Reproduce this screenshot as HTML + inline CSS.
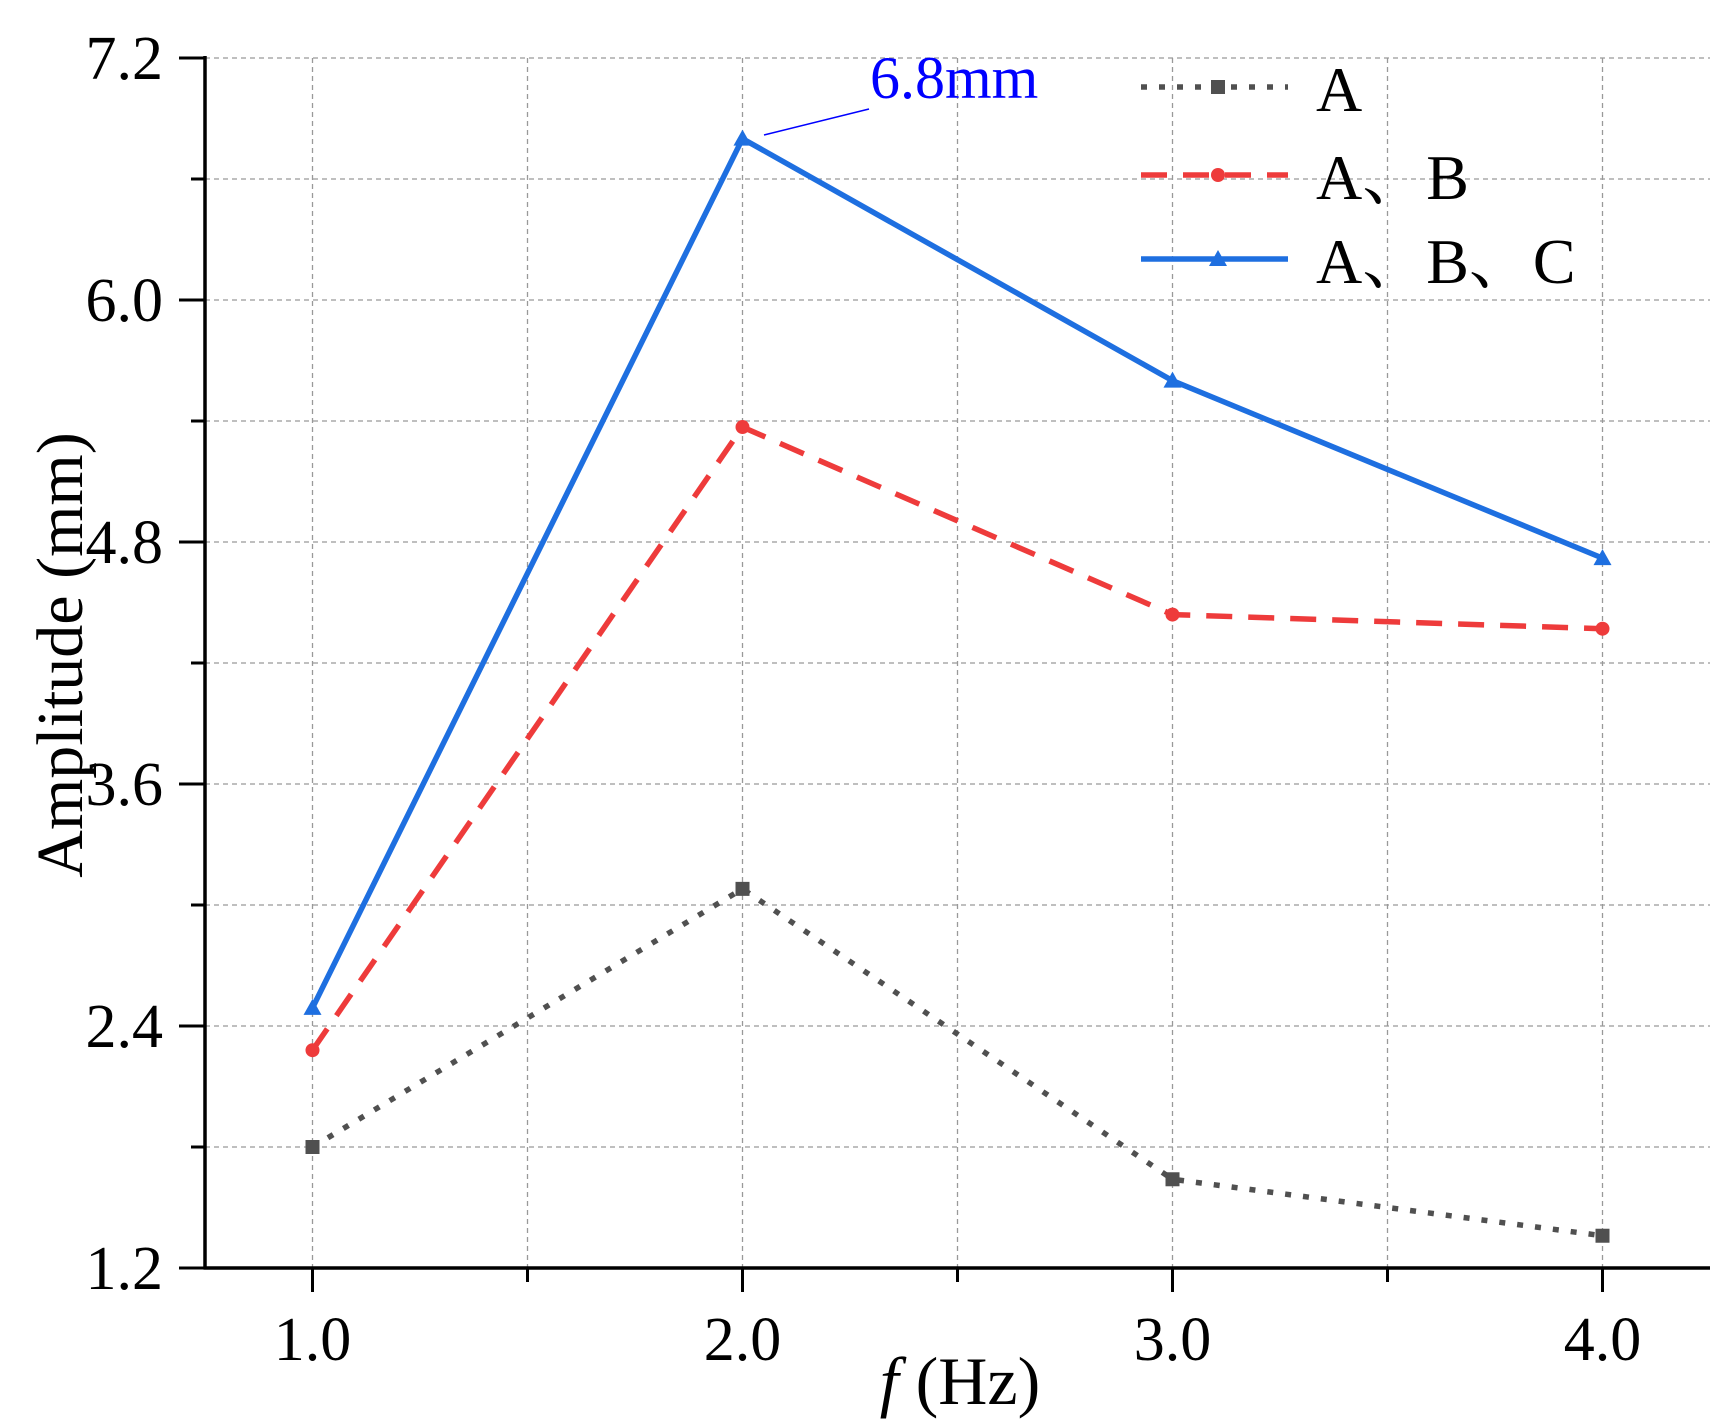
<!DOCTYPE html>
<html><head><meta charset="utf-8">
<style>
html,body{margin:0;padding:0;background:#fff;}
svg{display:block;font-family:"Liberation Serif",serif;}
.cjk{font-family:"Liberation Serif","Noto Serif CJK SC",serif;}
</style></head>
<body>
<svg id="chart" width="1732" height="1428" viewBox="0 0 1732 1428" xmlns="http://www.w3.org/2000/svg">
<g id="grid"></g>
<g id="axes"></g>
<g id="series"></g>
<g id="legend"></g>
<line x1="764" y1="135" x2="869" y2="109" stroke="#0000ff" stroke-width="1.5"/>
<text x="870" y="98" font-size="60" fill="#0000ff">6.8mm</text>
<text x="960" y="1404" font-size="68" text-anchor="middle"><tspan font-style="italic">f</tspan> (Hz)</text>
<text transform="translate(82,655) rotate(-90)" font-size="66" text-anchor="middle">Amplitude (mm)</text>
</svg>
<script>
const categories = [1.0, 2.0, 3.0, 4.0];
const seriesA = [1.80, 3.08, 1.64, 1.36];
const seriesAB = [2.28, 5.37, 4.44, 4.37];
const seriesABC = [2.49, 6.80, 5.60, 4.72];
const yTicks = ["1.2","2.4","3.6","4.8","6.0","7.2"];
const xTicks = ["1.0","2.0","3.0","4.0"];
const legendLabels = ["A","A、B","A、B、C"];

const NS = "http://www.w3.org/2000/svg";
const L=205,R=1710,T=58,B=1268, XMIN=0.75,XMAX=4.25,YMIN=1.2,YMAX=7.2;
const xs = v => L + (v-XMIN)/(XMAX-XMIN)*(R-L);
const ys = v => B - (v-YMIN)/(YMAX-YMIN)*(B-T);
function mk(tag, attrs, parent){const e=document.createElementNS(NS,tag);for(const k in attrs)e.setAttribute(k,attrs[k]);parent.appendChild(e);return e;}
const grid=document.getElementById('grid'), axes=document.getElementById('axes'), ser=document.getElementById('series'), leg=document.getElementById('legend');

for(let i=0;i<yTicks.length;i++){
  const v=parseFloat(yTicks[i]); const y=ys(v);
  if(i>0){ const g=mk('line',{x1:L,x2:R,y1:y,y2:y,stroke:'#999','stroke-width':1.3,'stroke-dasharray':'5,4'},grid);
      }
  const t=mk('line',{x1:L-26,x2:L,y1:y,y2:y,stroke:'#000','stroke-width':3},axes);
   
  const lb=mk('text',{x:L-42,y:y+21,'font-size':62,'text-anchor':'end'},axes); lb.textContent=yTicks[i];
   
  if(i<yTicks.length-1){ const ym=ys(v+0.6);
    const gm=mk('line',{x1:L,x2:R,y1:ym,y2:ym,stroke:'#999','stroke-width':1.3,'stroke-dasharray':'5,4'},grid);
     
    const tm=mk('line',{x1:L-14,x2:L,y1:ym,y2:ym,stroke:'#000','stroke-width':3},axes);
      }
}
for(let i=0;i<xTicks.length;i++){
  const v=parseFloat(xTicks[i]); const x=xs(v);
  const g=mk('line',{x1:x,x2:x,y1:T,y2:B,stroke:'#999','stroke-width':1.3,'stroke-dasharray':'5,4'},grid);
   
  const t=mk('line',{x1:x,x2:x,y1:B,y2:B+24,stroke:'#000','stroke-width':3},axes);
   
  const lb=mk('text',{x:x,y:B+92,'font-size':62,'text-anchor':'middle'},axes); lb.textContent=xTicks[i];
   
  if(i<xTicks.length-1){ const xm=xs(v+0.5);
    const gm=mk('line',{x1:xm,x2:xm,y1:T,y2:B,stroke:'#999','stroke-width':1.3,'stroke-dasharray':'5,4'},grid);
     
    const tm=mk('line',{x1:xm,x2:xm,y1:B,y2:B+14,stroke:'#000','stroke-width':3},axes);
      }
}
const ya=mk('line',{x1:L,x2:L,y1:T-2,y2:B+1.5,stroke:'#000','stroke-width':3.5},axes);
 
const xa=mk('line',{x1:L-1.5,x2:R,y1:B,y2:B,stroke:'#000','stroke-width':3.5},axes);
 

const styles=[
 {vals:seriesA,color:'#505050',dash:'6,12',marker:'square',name:'series-a'},
 {vals:seriesAB,color:'#ee3b3b',dash:'26,16',marker:'circle',name:'series-a-b'},
 {vals:seriesABC,color:'#1e6fe0',dash:'none',marker:'triangle',name:'series-a-b-c'}];
function marker(type,x,y,color,parent){
  let m;
  if(type==='square') m=mk('rect',{x:x-7,y:y-7,width:14,height:14,fill:color},parent);
  else if(type==='circle') m=mk('circle',{cx:x,cy:y,r:7,fill:color},parent);
  else m=mk('polygon',{points:`${x},${y-9} ${x-9},${y+7} ${x+9},${y+7}`,fill:color},parent);
  return m;
}
styles.forEach(s=>{
  const pts=categories.map((c,i)=>xs(c)+','+ys(s.vals[i])).join(' ');
  const p=mk('polyline',{points:pts,fill:'none',stroke:s.color,'stroke-width':5.5,'stroke-dasharray':s.dash},ser);
   
  categories.forEach((c,i)=>{ const m=marker(s.marker,xs(c),ys(s.vals[i]),s.color,ser);
      });
});
const legY=[87,175,259];
styles.forEach((s,i)=>{
  const y=legY[i];
  const l=mk('line',{x1:1141,x2:1288,y1:y,y2:y,stroke:s.color,'stroke-width':5.5,'stroke-dasharray':s.dash},leg);
   
  const m=marker(s.marker,1218,y,s.color,leg);
   
  const t=mk('text',{x:1316,y:y+24,'font-size':64,'class':'cjk'},leg); t.textContent=legendLabels[i];
   
});
</script>
</body></html>
